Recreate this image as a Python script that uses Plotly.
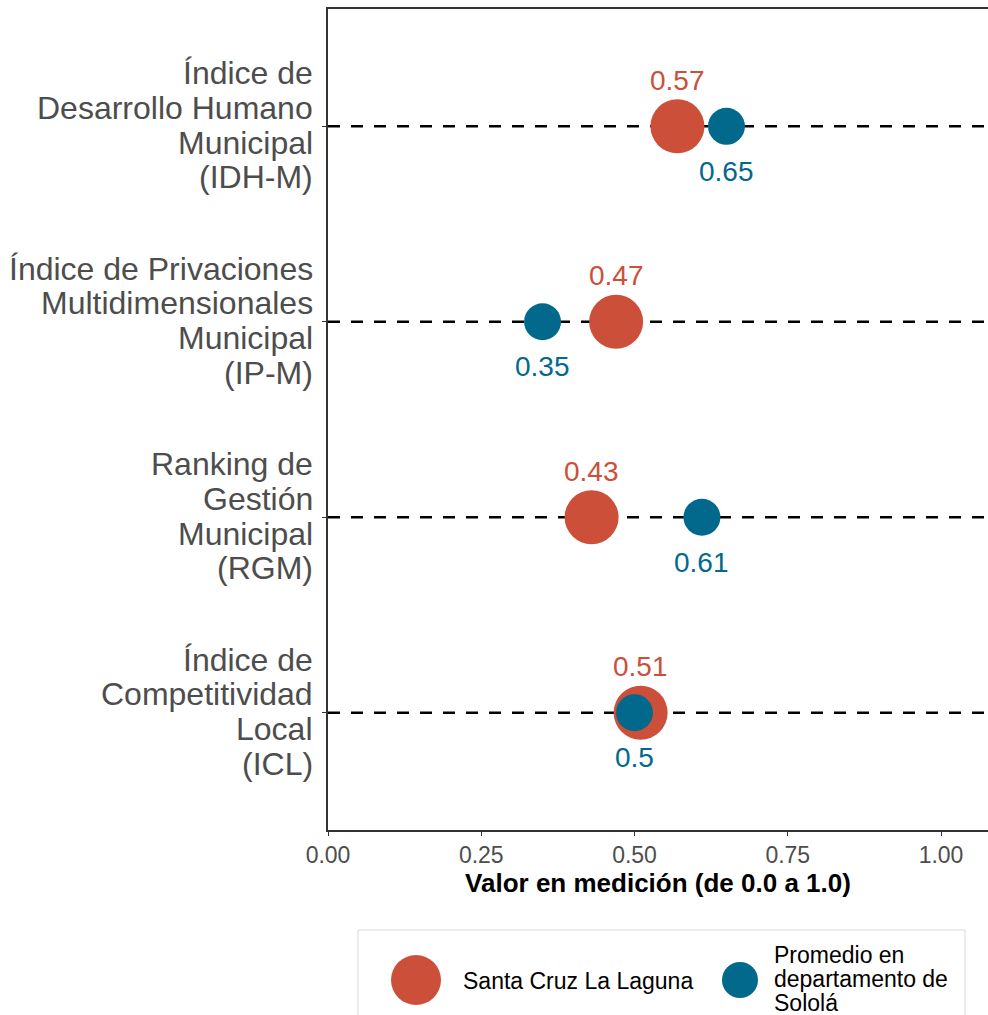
import plotly.graph_objects as go

# Indicadores (de arriba hacia abajo)
categorias = [
    "Índice de<br>Desarrollo Humano<br>Municipal<br>(IDH-M)",
    "Índice de Privaciones<br>Multidimensionales<br>Municipal<br>(IP-M)",
    "Ranking de<br>Gestión<br>Municipal<br>(RGM)",
    "Índice de<br>Competitividad<br>Local<br>(ICL)",
]
municipio_nombre = "Santa Cruz La Laguna"
departamento_nombre = "Promedio en<br>departamento de<br>Sololá"
valores_municipio = [0.57, 0.47, 0.43, 0.51]
valores_departamento = [0.65, 0.35, 0.61, 0.50]
x_ticks = [0.0, 0.25, 0.50, 0.75, 1.00]

ROJO = "#CC4F3A"
AZUL = "#03698C"
GRIS = "#4d4d4d"
FUENTE = "Liberation Sans, Arial, sans-serif"

# posición vertical de cada indicador (el primero arriba)
y_pos = list(range(len(categorias), 0, -1))

fig = go.Figure()

fig.add_trace(go.Scatter(
    x=valores_municipio, y=y_pos, mode="markers", name=municipio_nombre,
    marker=dict(size=54, color=ROJO, line=dict(width=0)),
    showlegend=False, hoverinfo="x",
))
fig.add_trace(go.Scatter(
    x=valores_departamento, y=y_pos, mode="markers", name=departamento_nombre,
    marker=dict(size=37, color=AZUL, line=dict(width=0)),
    showlegend=False, hoverinfo="x",
))

# líneas de referencia punteadas por indicador
for y in y_pos:
    fig.add_shape(type="line", xref="paper", yref="y", x0=0, x1=1, y0=y, y1=y,
                  line=dict(color="black", width=2.5, dash="12px,11px"), layer="below")

# etiquetas de valor
for v, y in zip(valores_municipio, y_pos):
    fig.add_annotation(x=v, y=y, xref="x", yref="y", text=f"{v:g}", showarrow=False,
                       yshift=46, font=dict(family=FUENTE, size=28, color=ROJO))
for v, y in zip(valores_departamento, y_pos):
    fig.add_annotation(x=v, y=y, xref="x", yref="y", text=f"{v:g}", showarrow=False,
                       yshift=-45, font=dict(family=FUENTE, size=28, color=AZUL))


def texto_multilinea(texto, x, y, xref, yref, xanchor, size, color, paso, xshift=0, yshift=0):
    """Coloca cada línea como anotación propia para controlar el interlineado."""
    lineas = texto.split("<br>")
    n = len(lineas)
    for i, linea in enumerate(lineas):
        desplazamiento = ((n - 1) / 2 - i) * paso
        fig.add_annotation(x=x, y=y, xref=xref, yref=yref, text=linea, showarrow=False,
                           xanchor=xanchor, yanchor="middle", xshift=xshift,
                           yshift=yshift + desplazamiento,
                           font=dict(family=FUENTE, size=size, color=color))


# nombres de los indicadores a la izquierda del eje
for etiqueta, y in zip(categorias, y_pos):
    texto_multilinea(etiqueta, 0, y, "paper", "y", "right", 32, GRIS, 34.7, xshift=-13, yshift=1)

# leyenda dibujada a mano (círculos grandes)
PL, PT, PW, PH = 328, 9, 660, 821


def px_x(px):
    return (px - PL) / PW


def px_y(py):
    return (PT + PH - py) / PH


fig.add_shape(type="rect", xref="paper", yref="paper",
              x0=px_x(358), x1=px_x(965), y0=px_y(1040), y1=px_y(930),
              line=dict(color="#d9d9d9", width=1), fillcolor="white", layer="below")
for cx, d, col in [(416, 50, ROJO), (740, 36, AZUL)]:
    fig.add_shape(type="circle", xref="paper", yref="paper",
                  xsizemode="pixel", ysizemode="pixel",
                  xanchor=px_x(cx), yanchor=px_y(980),
                  x0=-d / 2, x1=d / 2, y0=-d / 2, y1=d / 2,
                  fillcolor=col, line=dict(width=0))
texto_multilinea(municipio_nombre, px_x(461), px_y(981), "paper", "paper", "left", 23, "black", 24.5)
texto_multilinea(departamento_nombre, px_x(772), px_y(979), "paper", "paper", "left", 23, "black", 24)

fig.update_layout(
    width=988, height=1015,
    margin=dict(l=PL, r=988 - PL - PW, t=PT, b=1015 - PT - PH, pad=0),
    paper_bgcolor="white", plot_bgcolor="white",
    font=dict(family=FUENTE),
    showlegend=False,
    xaxis=dict(
        range=[0, PW / 613.0], tickvals=x_ticks, tickformat=".2f",
        showgrid=False, zeroline=False,
        showline=True, linecolor="#333333", linewidth=1.5, mirror=True,
        ticks="outside", ticklen=4, tickcolor="#333333",
        tickfont=dict(family=FUENTE, size=23, color=GRIS),
        title=dict(text="<b>Valor en medición (de 0.0 a 1.0)</b>", standoff=4,
                   font=dict(family=FUENTE, size=26, color="black")),
    ),
    yaxis=dict(
        range=[0.4, len(categorias) + 0.6], tickvals=y_pos, ticktext=[""] * len(y_pos),
        showgrid=False, zeroline=False,
        showline=True, linecolor="#333333", linewidth=1.5,
        ticks="outside", ticklen=4, tickcolor="#333333",
    ),
)

fig.write_html("out.html")
